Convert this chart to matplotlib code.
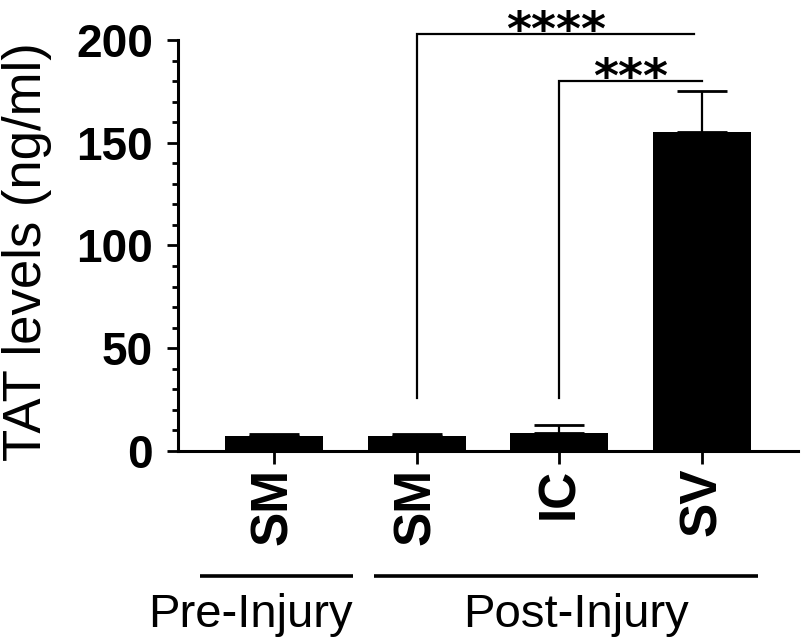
import matplotlib
matplotlib.use("Agg")
import matplotlib.pyplot as plt
from matplotlib.ticker import MultipleLocator

# Data
groups = ["SM", "SM", "IC", "SV"]
means = [7.3, 7.3, 8.7, 155.0]
sems = [1.2, 1.2, 3.9, 20.0]

# significance brackets: (left bar, right bar, height, label)
brackets = [(1, 2.94, 203, "****"), (2, 3.0, 180, "***")]
bracket_leg_bottom = 26

# group labels under the x axis
group_names = ["Pre-Injury", "Post-Injury"]
group_spans = [(-0.516, 0.555), (0.702, 3.389)]

plt.rcParams['font.family'] = ['Liberation Sans', 'DejaVu Sans']

fig = plt.figure(figsize=(8.04, 6.41), dpi=100)
W, H = 804, 641
ax = fig.add_axes([178 / W, (H - 451) / H, 620 / W, 411 / H])

x = list(range(len(groups)))
ax.bar(x, means, width=0.685, color="black", zorder=2)
ax.errorbar(x, means, yerr=[[0] * len(sems), sems], fmt="none",
            ecolor="black", elinewidth=1.6, capsize=18, capthick=2, zorder=3)

ax.set_xlim(-0.67, 3.67)
ax.set_ylim(0, 200)
ax.set_yticks([0, 50, 100, 150, 200])
ax.yaxis.set_minor_locator(MultipleLocator(10))
ax.set_xticks(x)
ax.set_xticklabels(groups, rotation=90, fontsize=37, fontweight="bold")
for lab in ax.get_yticklabels():
    lab.set_fontsize(33)
    lab.set_fontweight("bold")

for s in ["top", "right"]:
    ax.spines[s].set_visible(False)
for s in ["left", "bottom"]:
    ax.spines[s].set_linewidth(2.2)
ax.tick_params(axis="y", which="major", length=8, width=2, pad=10, direction="out")
ax.tick_params(axis="y", which="minor", length=4, width=2, direction="out")
ax.tick_params(axis="x", which="major", length=9, width=2, pad=3, direction="out")

ax.set_ylabel("TAT levels (ng/ml)", fontsize=38)
ax.yaxis.set_label_coords(-0.203, 0.484)

# significance brackets
for x0, x1, yb, lab in brackets:
    ax.plot([x0, x0, x1], [bracket_leg_bottom, yb, yb], color="black",
            lw=1.6, clip_on=False, solid_joinstyle="miter")
stars_pos = [(1.975, 197.6), (2.50, 174.8)]
for (sx, sy), (_, _, _, lab) in zip(stars_pos, brackets):
    ax.text(sx, sy, lab, ha="center", va="baseline", fontsize=34.5,
            fontweight="bold", family="DejaVu Sans", clip_on=False)

# group lines and labels
trans = ax.get_xaxis_transform()
text_centers = [-0.166, 2.115]
for (g0, g1), name, tc in zip(group_spans, group_names, text_centers):
    ax.plot([g0, g1], [-0.304, -0.304], color="black", lw=2.6,
            transform=trans, clip_on=False, solid_capstyle="butt")
    ax.text(tc, -0.428, name, ha="center", va="baseline", fontsize=34,
            transform=trans)

fig.savefig("out.png", dpi=100)
